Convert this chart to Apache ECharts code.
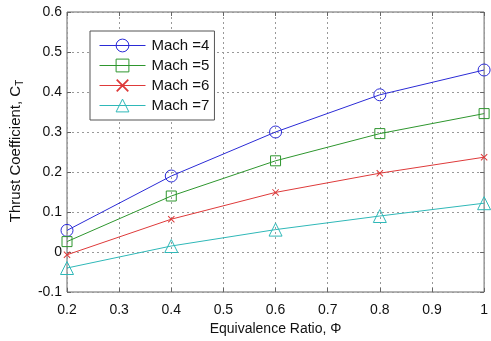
<!DOCTYPE html>
<html>
<head>
<meta charset="utf-8">
<script src="https://cdn.jsdelivr.net/npm/echarts@6/dist/echarts.min.js"></script>
<style>
  html, body {margin: 0; padding: 0; background: #fff;}
  #chart {width: 491px; height: 341px;}
</style>
</head>
<body>
<div id="chart"></div>
<script>
// equivalence ratio values
const phi = [0.2, 0.4, 0.6, 0.8, 1.0];
// thrust coefficient per Mach number
const mach4 = [0.054, 0.19, 0.30, 0.393, 0.455];
const mach5 = [0.026, 0.14, 0.228, 0.296, 0.346];
const mach6 = [-0.007, 0.082, 0.149, 0.197, 0.237];
const mach7 = [-0.04, 0.015, 0.056, 0.09, 0.122];
const seriesNames = ['Mach =4', 'Mach =5', 'Mach =6', 'Mach =7'];

const colors = ['#2b2bd6', '#2e962e', '#de3a3a', '#2fb8b8'];
// x marker as a filled shape so the legend keeps its colour
const crossPath = 'path://M0,0.99L0.99,0L10,9.01L9.01,10ZM9.01,0L10,0.99L0.99,10L0,9.01Z';
const symbols = ['circle', 'rect', crossPath, 'triangle'];
const sizes = [12, 10, 7, 13];
const font = 'Liberation Sans, Arial, sans-serif';

const chart = echarts.init(document.getElementById('chart'));

const markerStyle = i => i === 2
    ? {color: colors[i], borderWidth: 0}
    : {color: 'rgba(0,0,0,0)', borderColor: colors[i], borderWidth: 1};

const mk = (name, vals, i) => ({
    name: name,
    type: 'line',
    data: phi.map((x, k) => [x, vals[k]]),
    symbol: symbols[i],
    symbolSize: sizes[i],
    showAllSymbol: true,
    lineStyle: {color: colors[i], width: 1},
    itemStyle: markerStyle(i),
    emphasis: {disabled: true},
    animation: false
});

const axisFmt = v => {
    const r = Math.round(v * 10) / 10;
    return r === 0 ? '0' : String(r);
};

const tick = {inside: true, length: 4, lineStyle: {color: '#666'}};

chart.setOption({
    animation: false,
    textStyle: {fontFamily: font},
    grid: {left: 67, right: 5, top: 12, bottom: 42, show: true, borderColor: '#666', borderWidth: 1},
    // y axis title, drawn by hand so it can sit where the original has it
    graphic: [{
        type: 'text',
        x: 16, y: 151,
        rotation: Math.PI / 2,
        style: {
            text: '{a|Thrust Coefficient, C}{b|T}',
            align: 'center', verticalAlign: 'middle',
            rich: {
                a: {fontSize: 15, fill: '#111', fontFamily: font},
                b: {fontSize: 10, fill: '#111', fontFamily: font, verticalAlign: 'bottom', padding: [8, 0, 0, 0]}
            }
        }
    }],
    legend: {
        left: 90, top: 31,
        orient: 'vertical',
        backgroundColor: '#fff',
        borderColor: '#555', borderWidth: 1,
        padding: [7, 5, 7, 9],
        itemGap: 5,
        itemWidth: 46, itemHeight: 16,
        lineStyle: {width: 1},
        textStyle: {fontSize: 15, color: '#111', fontFamily: font, height: 16, padding: [0, 0, 0, 1]},
        data: seriesNames.map((n, i) => ({name: n, itemStyle: markerStyle(i)}))
    },
    xAxis: [{
        type: 'value', min: 0.2, max: 1, interval: 0.1,
        name: 'Equivalence Ratio, Φ',
        nameLocation: 'middle', nameGap: 30,
        nameTextStyle: {fontSize: 14, color: '#111'},
        axisLine: {show: false, onZero: false},
        axisTick: tick,
        axisLabel: {fontSize: 14, color: '#111', formatter: axisFmt, margin: 11},
        splitLine: {show: true, lineStyle: {color: '#999', type: [2, 3]}}
    }, {
        type: 'value', min: 0.2, max: 1, interval: 0.1, position: 'top',
        axisLine: {show: false, onZero: false},
        axisTick: tick,
        axisLabel: {show: false}, splitLine: {show: false}
    }],
    yAxis: [{
        type: 'value', min: -0.1, max: 0.6, interval: 0.1,
        axisLine: {show: false, onZero: false},
        axisTick: tick,
        axisLabel: {fontSize: 14, color: '#111', formatter: axisFmt, margin: 5},
        splitLine: {show: true, lineStyle: {color: '#999', type: [2, 3]}}
    }, {
        type: 'value', min: -0.1, max: 0.6, interval: 0.1, position: 'right',
        axisLine: {show: false, onZero: false},
        axisTick: tick,
        axisLabel: {show: false}, splitLine: {show: false}
    }],
    series: [
        mk(seriesNames[0], mach4, 0),
        mk(seriesNames[1], mach5, 1),
        mk(seriesNames[2], mach6, 2),
        mk(seriesNames[3], mach7, 3)
    ]
});
</script>
</body>
</html>
